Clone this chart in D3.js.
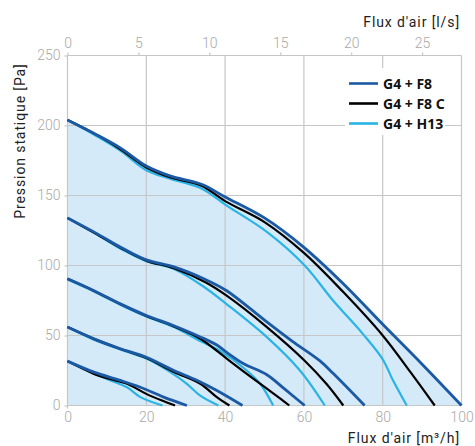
<!DOCTYPE html>
<html>
<head>
<meta charset="utf-8">
<script src="https://cdn.jsdelivr.net/npm/d3@7"></script>
<style>
  body { margin: 0; background: #fff; }
  svg text { font-family: Roboto, "DejaVu Sans", sans-serif; }
</style>
</head>
<body>
<div id="d3_container"></div>
<script>

// ticks
const flowTicks = [0, 20, 40, 60, 80, 100];        // m3/h
const lsTicks = [0, 5, 10, 15, 20, 25];             // l/s
const pressureTicks = [0, 50, 100, 150, 200, 250];  // Pa

// series, [flux m3/h, pression Pa], one curve per speed step
const g4f8 = [
  [[0,204],[7,194],[13.4,184],[20,171],[26,164],[34,158],[40,149],[50,134],[60,113],[70,87],[80,58],[90,29.5],[100,0]],
  [[0,134],[7,123.5],[13.5,113],[20,104],[27,99],[35,90],[40.4,82],[50,61],[57,46],[64,32],[67.4,23],[75.4,0]],
  [[0,90.5],[6.7,82],[13.4,72.6],[20,64.3],[27,57],[33.7,49],[38,43],[40.4,38],[44.6,30],[50.6,22],[55,12],[60.2,0]],
  [[0,56],[6.7,47.6],[13.4,40.5],[20,34.5],[27,25],[32.8,18],[37.9,10.7],[44.4,0]],
  [[0,31.7],[6.7,23.8],[13.4,17.9],[18.5,13],[24.4,6],[30.3,0]]
];
const g4f8c = [
  [[0,204],[7,194],[13.4,183],[20,170],[26,163],[34,157],[40,146],[50,131],[60,109],[70,81],[80,50],[87,24],[93.2,0]],
  [[0,134],[7,123],[13.5,112.5],[20,103.5],[27,98],[35,88],[40.3,78.6],[50.6,56],[60.2,32],[65.7,15.5],[70,0]],
  [[0,90.5],[6.7,82],[13.4,72.5],[20,64],[27,56.5],[33.7,47.7],[40.4,33.5],[45.5,22.6],[50.6,12],[53.5,6],[56.3,0]],
  [[0,56],[6.7,47.6],[13.4,40.5],[20,34],[27,24],[33.7,15.5],[37.9,6],[41.1,0]],
  [[0,31.7],[6.7,22.6],[10,19.5],[15.1,15.5],[20,8.3],[24,3.5],[27.3,0]]
];
const g4h13 = [
  [[0,204],[7,193],[13.4,182],[20,168],[26,162],[34,155],[40.3,143],[50.6,124],[60.2,100],[67.4,75],[75,51],[80,33],[82.6,18],[86.1,0]],
  [[0,134],[7,123],[13.5,112],[20,103],[27,97.5],[34.5,85],[40.3,72.6],[50.6,48.8],[59,25],[65.3,0]],
  [[0,90],[6.7,81.5],[13.4,72],[20,63.5],[27,56],[33.7,46],[38.7,39],[45.5,25],[48.9,15.5],[52.2,0]],
  [[0,56],[6.7,47],[13.4,40],[20,33.5],[26,24],[30.3,15.5],[33.7,7],[38.3,0]],
  [[0,31.7],[5,25],[10,19],[15.1,13],[18.5,6],[24.1,0]]
];

const legendNames = ["G4 + F8", "G4 + F8 C", "G4 + H13"];
const colors = ["#1b59a4", "#000000", "#2ab4e6"];

const width = 475, height = 446;
const margin = {top: 55.5, bottom: 40.5, left: 67.5, right: 13.5};

const svg = d3.select("#d3_container").append("svg")
  .attr("width", width)
  .attr("height", height);

const x_scale = d3.scaleLinear().domain([0, 100]).range([margin.left, width - margin.right]);
const xls_scale = d3.scaleLinear().domain([0, 100 / 3.6]).range([margin.left, width - margin.right]);
const y_scale = d3.scaleLinear().domain([0, 250]).range([height - margin.bottom, margin.top]);

const smooth = d3.curveCatmullRom.alpha(0.5);

// fill under the highest curve
const area = d3.area()
  .x(d => x_scale(d[0]))
  .y0(y_scale(0))
  .y1(d => y_scale(d[1]))
  .curve(smooth);

svg.append("path")
  .datum(g4f8[0])
  .attr("d", area)
  .attr("fill", "#d5eaf8");

// grid
const grid = svg.append("g").attr("stroke", "#c6c6c6").attr("stroke-width", 1.2);
grid.selectAll(".vx").data(flowTicks).enter().append("line")
  .attr("x1", d => x_scale(d)).attr("x2", d => x_scale(d))
  .attr("y1", y_scale(250)).attr("y2", y_scale(0));
grid.selectAll(".hy").data(pressureTicks).enter().append("line")
  .attr("x1", x_scale(0)).attr("x2", x_scale(100))
  .attr("y1", d => y_scale(d)).attr("y2", d => y_scale(d));
grid.append("line")
  .attr("x1", x_scale(0)).attr("x2", x_scale(0))
  .attr("y1", y_scale(0)).attr("y2", y_scale(0) + 3);

// curves
const line = d3.line()
  .x(d => x_scale(d[0]))
  .y(d => y_scale(d[1]))
  .curve(smooth);

const groups = [g4h13, g4f8c, g4f8];
const groupColors = [colors[2], colors[1], colors[0]];
const groupWidths = [2.2, 2.2, 2.8];
groups.forEach((g, i) => {
  svg.append("g").selectAll("path")
    .data(g)
    .enter()
    .append("path")
    .attr("d", line)
    .attr("fill", "none")
    .attr("stroke", groupColors[i])
    .attr("stroke-width", groupWidths[i])
    .attr("stroke-linejoin", "round");
});

// axes
const axisStyle = g => {
  g.select(".domain").remove();
  g.selectAll(".tick line").attr("stroke", "#c6c6c6").attr("stroke-width", 1.2);
  g.selectAll(".tick text").attr("fill", "#a9a9a9").style("font-size", "14px").style("font-weight", 300);
};

svg.append("g")
  .attr("transform", `translate(${margin.left},0)`)
  .call(d3.axisLeft(y_scale).tickValues(pressureTicks).tickSize(3).tickPadding(4))
  .call(axisStyle);

svg.append("g")
  .attr("transform", `translate(0,${y_scale(0)})`)
  .call(d3.axisBottom(x_scale).tickValues(flowTicks).tickSize(0).tickPadding(6.5))
  .call(axisStyle);

svg.append("g")
  .attr("transform", `translate(0,${y_scale(250)})`)
  .call(d3.axisTop(xls_scale).tickValues(lsTicks).tickSize(3).tickPadding(4.5))
  .call(axisStyle);

// titles
svg.append("text")
  .attr("x", 460).attr("y", 27)
  .attr("text-anchor", "end")
  .style("font-size", "14px").style("letter-spacing", "0.9px")
  .attr("fill", "#222")
  .text("Flux d'air [l/s]");

svg.append("text")
  .attr("x", 460).attr("y", 443)
  .attr("text-anchor", "end")
  .style("font-size", "14px").style("letter-spacing", "0.9px")
  .attr("fill", "#222")
  .text("Flux d'air [m³/h]");

svg.append("text")
  .attr("transform", "translate(25,141) rotate(-90)")
  .attr("text-anchor", "middle")
  .style("font-size", "14px").style("letter-spacing", "0.9px")
  .attr("fill", "#222")
  .text("Pression statique [Pa]");

// legend
svg.append("rect")
  .attr("x", 345).attr("y", 68)
  .attr("width", 100).attr("height", 67)
  .attr("fill", "#fff");

const legend = svg.append("g").selectAll("g")
  .data(legendNames)
  .enter()
  .append("g")
  .attr("transform", (d, i) => `translate(349,${83.5 + i * 20})`);

legend.append("line")
  .attr("x1", 0).attr("x2", 29)
  .attr("stroke", (d, i) => colors[i])
  .attr("stroke-width", 2.6);

legend.append("text")
  .attr("x", 34).attr("y", 5)
  .style("font-family", "'Noto Sans', sans-serif")
  .style("font-size", "14px").style("font-weight", "bold")
  .attr("fill", "#111")
  .text(d => d);

</script>
</body>
</html>
